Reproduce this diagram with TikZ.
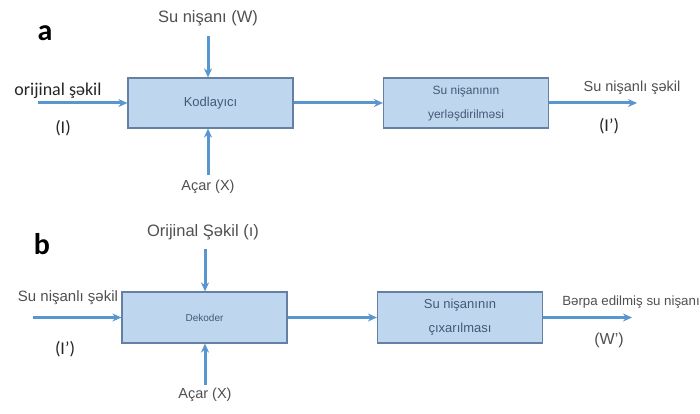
\documentclass[tikz,border=0pt]{standalone}
\usepackage{fontspec}
\setmainfont{Liberation Sans}
\newfontfamily\calfont{Carlito}
\usetikzlibrary{arrows.meta}

\definecolor{arrowblue}{RGB}{88,150,208}
\definecolor{boxfill}{RGB}{190,215,238}
\definecolor{boxline}{RGB}{100,128,165}
\definecolor{boxtext}{RGB}{70,88,118}
\definecolor{labelgray}{RGB}{80,80,80}

\tikzset{
	flow/.style={draw=arrowblue, line width=3pt, -{Stealth[length=9pt,width=8pt]}},
	blockbox/.style={draw=boxline, line width=1.2pt, fill=boxfill, text=boxtext,
		minimum width=165pt, minimum height=50pt, align=center, inner sep=0pt},
	lbl/.style={text=labelgray, inner sep=0pt},
	tag/.style={text=black!85, inner sep=0pt, font=\calfont\fontsize{18}{20}\selectfont}
}

\begin{document}
\begin{tikzpicture}[x=1pt, y=-1pt]
		\useasboundingbox [fill=white] (0,0) rectangle (700,414);

		% ---- panel a: embedding ----
		\node [inner sep=0pt, font=\calfont\bfseries\fontsize{30}{30}\selectfont] (lbla) at (45,33) {a};

		\node [blockbox, font=\fontsize{13}{15}\selectfont] (enc) at (210.5,103) {Kodlayıcı};
		\node [blockbox, font=\fontsize{12}{24}\selectfont] (emb) at (466,103) {Su nişanının\\yerləşdirilməsi};

		\coordinate (ina) at (38,103);
		\coordinate (wtop) at (208,36);
		\coordinate (keya) at (208,175);
		\coordinate (outa) at (637,103);

		\draw [flow] (ina) -- (ina -| enc.west);
		\draw [flow] (wtop) -- (wtop |- enc.north);
		\draw [flow] (keya) -- (keya |- enc.south);
		\draw [flow] (enc.east) -- (emb.west);
		\draw [flow] (emb.east) -- (emb.east -| outa);

		\node [lbl, font=\fontsize{16.5}{18}\selectfont] (wlbl) at (208,18) {Su nişanı (W)};
		\node [lbl, font=\fontsize{14.5}{16}\selectfont] (keylbla) at (208,187) {Açar (X)};
		\node [tag] (origlbl) at (58,91) {orijinal şəkil};
		\node [tag] (ilbl) at (63,128) {(I)};
		\node [lbl, font=\fontsize{14.5}{16}\selectfont] (outlbla) at (632,88) {Su nişanlı şəkil};
		\node [tag] (iplbl) at (609,126) {(I’)};

		% ---- panel b: extraction ----
		\node [inner sep=0pt, font=\calfont\bfseries\fontsize{30}{30}\selectfont] (lblb) at (42,244) {b};

		\node [blockbox, minimum height=51pt, font=\fontsize{10}{12}\selectfont] (dec) at (204.5,317.5) {Dekoder};
		\node [blockbox, minimum height=51pt, font=\fontsize{13}{24}\selectfont] (ext) at (460,317.5) {Su nişanının\\çıxarılması};

		\coordinate (inb) at (33,317.5);
		\coordinate (otop) at (205,249);
		\coordinate (keyb) at (205,385);
		\coordinate (outb) at (632,317.5);

		\draw [flow] (inb) -- (inb -| dec.west);
		\draw [flow] (otop) -- (otop |- dec.north);
		\draw [flow] (keyb) -- (keyb |- dec.south);
		\draw [flow] (dec.east) -- (ext.west);
		\draw [flow] (ext.east) -- (ext.east -| outb);

		\node [lbl, font=\fontsize{16.5}{18}\selectfont] (olbl) at (203,232) {Orijinal Şəkil (ı)};
		\node [lbl, font=\fontsize{14.5}{16}\selectfont] (keylblb) at (205,395) {Açar (X)};
		\node [lbl, font=\fontsize{15}{17}\selectfont] (inlblb) at (68,298) {Su nişanlı şəkil};
		\node [tag] (iplblb) at (65,349) {(I’)};
		\node [lbl, font=\fontsize{13.3}{15}\selectfont] (outlblb) at (631,302) {Bərpa edilmiş su nişanı};
		\node [lbl, font=\fontsize{16}{18}\selectfont] (wplbl) at (609,340) {(W’)};
	\end{tikzpicture}
\end{document}
